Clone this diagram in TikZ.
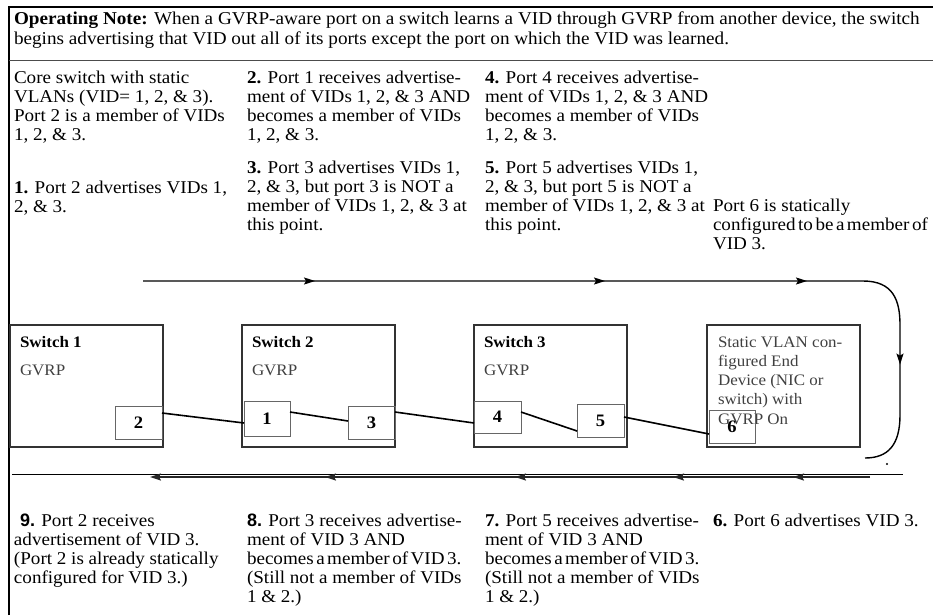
\documentclass[tikz,border=0pt]{standalone}
\usepackage{fontspec}
\setmainfont[FakeStretch=1.06]{Liberation Serif}
\setsansfont{Liberation Sans}
\usetikzlibrary{calc,arrows.meta,decorations.markings}

\begin{document}
\begin{tikzpicture}[
    x=1pt, y=-1pt,
    >={Stealth[length=11pt,width=7pt,inset=2pt]},
    every node/.style={inner sep=0pt, outer sep=0pt},
    % multi-line texts are placed at the baseline of their LAST line
    note/.style={anchor=base west, align=left, font=\fontsize{18}{19.2}\selectfont},
    switchbox/.style={draw=black!80, line width=1.6pt, anchor=north west,
                      minimum width=153pt, minimum height=122pt},
    portbox/.style={draw=black!60, line width=0.8pt, anchor=north west,
                    minimum width=47pt, minimum height=33pt,
                    font=\fontsize{17.5}{17}\selectfont\bfseries},
    boxtext/.style={anchor=base west, align=left, text=black!75,
                    font=\fontsize{16}{19.3}\selectfont},
    wire/.style={line width=1.6pt},
    flow/.style={line width=1.4pt}
]

\useasboundingbox (0,0) rectangle (933,615);

%======================
% Coordinates
%======================

\def\ColA{14}
\def\ColB{247}
\def\ColC{485}
\def\ColD{713}

\coordinate (frameTL) at (9,7);
\coordinate (frameTR) at (933,7);
\coordinate (frameBL) at (9,615);
\coordinate (rule)    at (933,61);

\coordinate (flowS) at (143,281);
\coordinate (flowE) at (865,458);

\coordinate (backL) at (12,474);
\coordinate (backR) at (903,474);
\coordinate (retR)  at (870,477);
\coordinate (retL)  at (150,477);

%======================
% Frame
%======================

\draw[line width=1.6pt] (frameBL) -- (frameTL) -- (frameTR);
\draw[line width=1pt, black!70] (frameTL |- rule) -- (rule);

%======================
% Header
%======================

\node[note, font=\fontsize{18.1}{20}\selectfont] (noteOp) at (\ColA,45)
  {\textbf{Operating Note:} When a GVRP-aware port on a switch learns a VID through GVRP from another device, the switch\\
   begins advertising that VID out all of its ports except the port on which the VID was learned.};

%======================
% Upper texts
%======================

\node[note] (txtCore) at (\ColA,140.6)
  {Core switch with static\\VLANs (VID= 1, 2, \& 3).\\Port 2 is a member of VIDs\\1, 2, \& 3.};
\node[note] (txtOne) at (\ColA,212.2)
  {\textbf{1.} Port 2 advertises VIDs 1,\\2, \& 3.};

\node[note] (txtTwo) at (\ColB,140.6)
  {\textbf{2.} Port 1 receives advertise-\\ment of VIDs 1, 2, \& 3 AND\\becomes a member of VIDs\\1, 2, \& 3.};
\node[note] (txtThree) at (\ColB,230.6)
  {\textbf{3.} Port 3 advertises VIDs 1,\\2, \& 3, but port 3 is NOT a\\member of VIDs 1, 2, \& 3 at\\this point.};

\node[note] (txtFour) at (\ColC,140.6)
  {\textbf{4.} Port 4 receives advertise-\\ment of VIDs 1, 2, \& 3 AND\\becomes a member of VIDs\\1, 2, \& 3.};
\node[note] (txtFive) at (\ColC,230.6)
  {\textbf{5.} Port 5 advertises VIDs 1,\\2, \& 3, but port 5 is NOT a\\member of VIDs 1, 2, \& 3 at\\this point.};

\node[note] (txtStatic) at (\ColD,249.4)
  {Port 6 is statically\\{\spaceskip=2.5pt configured to be a member of}\\VID 3.};

%======================
% Upper flow (curves down on the right)
%======================

\draw[flow, postaction={decorate}, decoration={markings,
      mark=at position 172pt with {\arrow{>}},
      mark=at position 462pt with {\arrow{>}},
      mark=at position 664pt with {\arrow{>}},
      mark=at position 826pt with {\arrow{>}}}]
  (flowS) -- (863,281) .. controls (893,281) and (900,300) .. (900,325)
  -- (900,415) .. controls (900,445) and (888,458) .. (flowE);
\fill (887,464) circle (1.1pt);

%======================
% Switches
%======================

\node[switchbox] (sw1) at (10,325) {};
\node[switchbox] (sw2) at (242,325) {};
\node[switchbox] (sw3) at (474,325) {};
\node[switchbox] (dev) at (707,325) {};

\foreach \s/\n in {sw1/1, sw2/2, sw3/3}{
  \node[boxtext, text=black, font=\fontsize{16}{19}\selectfont\bfseries]
    (\s-name) at ($(\s.north west)+(10,22)$) {Switch \n};
  \node[boxtext] (\s-gvrp) at ($(\s.north west)+(10,50)$) {GVRP};
}

\node[boxtext] (devText) at ($(dev.north west)+(11,99.2)$)
  {Static VLAN con-\\figured End\\Device (NIC or\\switch) with\\GVRP On};

%======================
% Ports
%======================

\node[portbox] (p2) at (115,406) {2};
\node[portbox, minimum width=46pt, minimum height=35pt] (p1) at (244,401) {1};
\node[portbox] (p3) at (348,406) {3};
\node[portbox, minimum height=32pt] (p4) at (474,401) {4};
\node[portbox] (p5) at (577,404) {5};
\node[portbox, minimum width=46pt] (p6) at (709,410) {6};

% Links
\draw[wire] ($(p2.east)+(0,-9.5)$) -- ($(p1.west)+(0,4.5)$);
\draw[wire] ($(p1.east)+(0,-6.5)$) -- ($(p3.west)+(0,-1.5)$);
\draw[wire] ($(p3.east)+(0,-10.5)$) -- ($(p4.west)+(0,6)$);
\draw[wire] ($(p4.east)+(0,-5)$) -- ($(p5.west)+(0,10.5)$);
\draw[wire] ($(p5.east)+(0,-3.5)$) -- ($(p6.west)+(0,7.5)$);

%======================
% Return flow
%======================

\draw[line width=0.8pt] (backL) -- (backR);
\draw[line width=1.8pt, black!85, ->, postaction={decorate}, decoration={markings,
      mark=at position 77pt with {\arrow{>}},
      mark=at position 197pt with {\arrow{>}},
      mark=at position 355pt with {\arrow{>}},
      mark=at position 545pt with {\arrow{>}}}]
  (retR) -- (retL);

%======================
% Lower texts
%======================

\node[note] (txtNine) at (\ColA,583.6)
  {\hspace{6pt}{\sffamily\bfseries 9.} Port 2 receives\\advertisement of VID 3.\\(Port 2 is already statically\\configured for VID 3.)};
\node[note] (txtEight) at (\ColB,602.8)
  {{\sffamily\bfseries 8.} Port 3 receives advertise-\\ment of VID 3 AND\\{\spaceskip=2.5pt becomes a member of VID 3.}\\(Still not a member of VIDs\\1 \& 2.)};
\node[note] (txtSeven) at (\ColC,602.8)
  {\textbf{7.} Port 5 receives advertise-\\ment of VID 3 AND\\{\spaceskip=2.5pt becomes a member of VID 3.}\\(Still not a member of VIDs\\1 \& 2.)};
\node[note] (txtSix) at (\ColD,526)
  {\textbf{6.} Port 6 advertises VID 3.};

\end{tikzpicture}
\end{document}
